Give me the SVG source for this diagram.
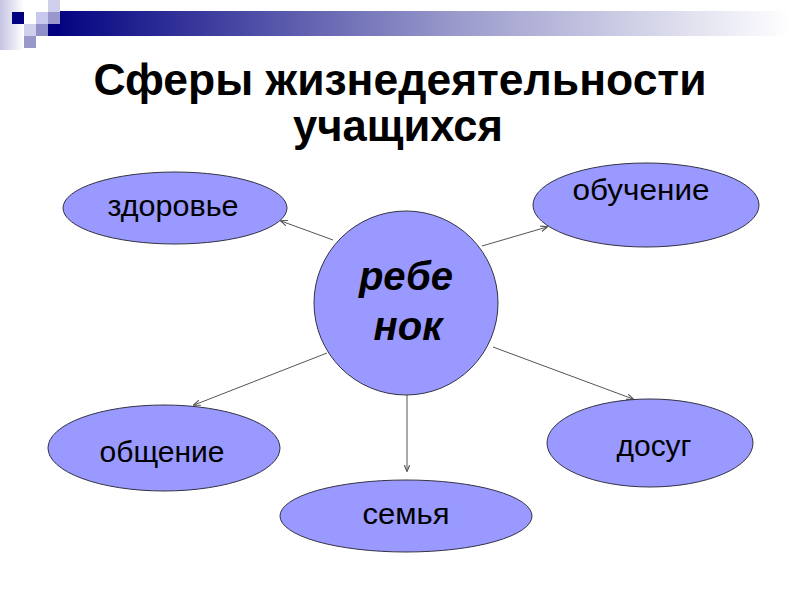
<svg xmlns="http://www.w3.org/2000/svg" width="800" height="600" viewBox="0 0 800 600">
  <defs>
    <linearGradient id="bar" x1="48" y1="0" x2="790" y2="0" gradientUnits="userSpaceOnUse">
      <stop offset="0" stop-color="#000080"/>
      <stop offset="0.55" stop-color="#9a9acc"/>
      <stop offset="1" stop-color="#ffffff"/>
    </linearGradient>
    <linearGradient id="strip" x1="0" y1="0" x2="1" y2="0">
      <stop offset="0" stop-color="#c4c4e4"/>
      <stop offset="1" stop-color="#ffffff"/>
    </linearGradient>
    <marker id="arr" viewBox="0 0 10 10" refX="9" refY="5" markerWidth="7" markerHeight="7" orient="auto" markerUnits="userSpaceOnUse">
      <path d="M0,1 L10,5 L0,9" fill="none" stroke="#555" stroke-width="1.6"/>
    </marker>
    <style>
      .node ellipse, .node circle { fill: #9999ff; stroke: #333344; stroke-width: 1; }
      .lbl { font-family: "Liberation Sans", Arial, sans-serif; font-size: 30px; fill: #000; text-anchor: middle; }
      .ctr { font-family: "Liberation Sans", Arial, sans-serif; font-size: 40px; font-weight: bold; font-style: italic; fill: #000; text-anchor: middle; }
      .title { font-family: "Liberation Sans", Arial, sans-serif; font-size: 45px; font-weight: bold; fill: #000; text-anchor: middle; }
      .conn line { stroke: #555; stroke-width: 1; marker-end: url(#arr); }
    </style>
  </defs>
  <rect width="800" height="600" fill="#fff"/>
  <g id="decor">
    <rect x="0" y="0" width="24" height="50" fill="url(#strip)"/>
    <rect x="48" y="11" width="752" height="25" fill="url(#bar)"/>
    <rect x="12" y="12" width="12" height="12" fill="#000080"/>
    <rect x="48" y="0" width="12" height="12" fill="#d0d0ec"/>
    <rect x="36" y="12" width="12" height="12" fill="#c8c8ee"/>
    <rect x="48" y="12" width="12" height="12" fill="#9898cc"/>
    <rect x="48" y="24" width="12" height="12" fill="#000080"/>
    <rect x="36" y="24" width="12" height="12" fill="#9090c8"/>
    <rect x="24" y="24" width="12" height="12" fill="#d0d0ec"/>
    <rect x="24" y="36" width="12" height="12" fill="#9898cc"/>
  </g>
  <g id="title">
    <text class="title" x="400" y="95" textLength="613" lengthAdjust="spacingAndGlyphs">Сферы жизнедеятельности</text>
    <text class="title" x="398" y="141" textLength="210" lengthAdjust="spacingAndGlyphs">учащихся</text>
  </g>
  <g id="connectors" class="conn">
    <line x1="333" y1="240" x2="281" y2="221"/>
    <line x1="482" y1="246" x2="547" y2="227"/>
    <line x1="327" y1="353" x2="194" y2="405"/>
    <line x1="407" y1="393" x2="407" y2="471"/>
    <line x1="493" y1="347" x2="633" y2="399"/>
  </g>
  <g id="n-center" class="node">
    <circle cx="406" cy="303" r="92"/>
    <text class="ctr" x="406" y="290">ребе</text>
    <text class="ctr" x="408" y="340">нок</text>
  </g>
  <g id="n-health" class="node">
    <ellipse cx="175" cy="208" rx="112" ry="36"/>
    <text class="lbl" x="173" y="216" textLength="131" lengthAdjust="spacingAndGlyphs">здоровье</text>
  </g>
  <g id="n-study" class="node">
    <ellipse cx="646" cy="205" rx="113" ry="42"/>
    <text class="lbl" x="641" y="200" textLength="137" lengthAdjust="spacingAndGlyphs">обучение</text>
  </g>
  <g id="n-comm" class="node">
    <ellipse cx="164" cy="448" rx="116" ry="43"/>
    <text class="lbl" x="162" y="462" textLength="125" lengthAdjust="spacingAndGlyphs">общение</text>
  </g>
  <g id="n-family" class="node">
    <ellipse cx="406" cy="516" rx="126" ry="36"/>
    <text class="lbl" x="406" y="524" textLength="87" lengthAdjust="spacingAndGlyphs">семья</text>
  </g>
  <g id="n-leisure" class="node">
    <ellipse cx="650" cy="443" rx="103" ry="44"/>
    <text class="lbl" x="654" y="456" textLength="75" lengthAdjust="spacingAndGlyphs">досуг</text>
  </g>
</svg>
